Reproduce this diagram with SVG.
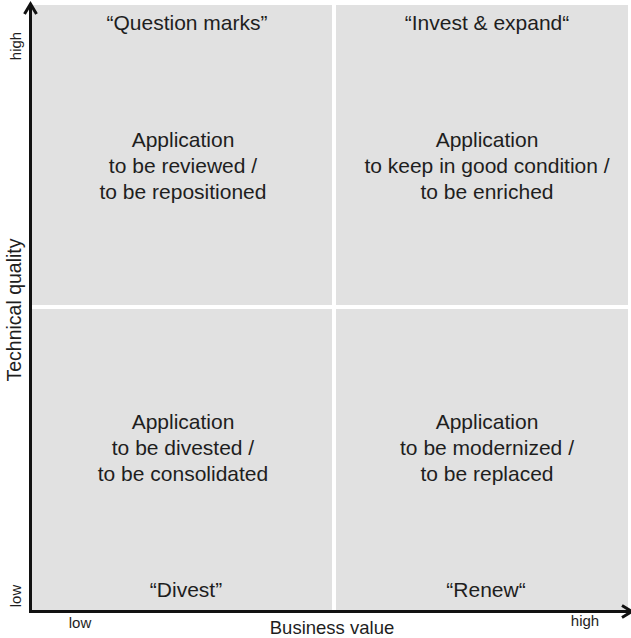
<svg xmlns="http://www.w3.org/2000/svg" width="631" height="638" viewBox="0 0 631 638">
<style>
.q{fill:#e1e1e1;}
.t{font-family:"Liberation Sans",Arial,sans-serif;font-size:21px;fill:#1e1e1e;text-anchor:middle;}
.ax{font-family:"Liberation Sans",Arial,sans-serif;fill:#1e1e1e;text-anchor:middle;}
.axis{stroke:#111;stroke-width:3;fill:none;}
</style>
<rect width="631" height="638" fill="#ffffff"/>
<g id="q-question-marks">
<rect class="q" x="32" y="5" width="300" height="300"/>
<text class="t" x="187" y="30">“Question marks”</text>
<text class="t" x="183" y="147">Application</text>
<text class="t" x="183" y="173">to be reviewed /</text>
<text class="t" x="183" y="199">to be repositioned</text>
</g>
<g id="q-invest-expand">
<rect class="q" x="336" y="5" width="292" height="300"/>
<text class="t" x="487" y="30">“Invest &amp; expand“</text>
<text class="t" x="487" y="147">Application</text>
<text class="t" x="487" y="173">to keep in good condition /</text>
<text class="t" x="487" y="199">to be enriched</text>
</g>
<g id="q-divest">
<rect class="q" x="32" y="309" width="300" height="301"/>
<text class="t" x="183" y="429">Application</text>
<text class="t" x="183" y="455">to be divested /</text>
<text class="t" x="183" y="481">to be consolidated</text>
<text class="t" x="186" y="597">“Divest”</text>
</g>
<g id="q-renew">
<rect class="q" x="336" y="309" width="292" height="301"/>
<text class="t" x="487" y="429">Application</text>
<text class="t" x="487" y="455">to be modernized /</text>
<text class="t" x="487" y="481">to be replaced</text>
<text class="t" x="486" y="597">“Renew“</text>
</g>
<g id="connectors">
<line class="axis" x1="30.5" y1="613" x2="30.5" y2="5"/>
<polyline class="axis" points="24.5,14 30.5,4 36.5,14"/>
<line class="axis" x1="29" y1="611.5" x2="631" y2="611.5"/>
<polyline class="axis" points="622,605.5 632,611.5 622,617.5"/>
</g>
<g id="axis-labels">
<text class="ax" x="332" y="634" font-size="18.5">Business value</text>
<text class="ax" x="80" y="628" font-size="15">low</text>
<text class="ax" x="585" y="626" font-size="15">high</text>
<text class="ax" font-size="19.5" transform="translate(20.5,310) rotate(-90)">Technical quality</text>
<text class="ax" font-size="15" transform="translate(20.5,46) rotate(-90)">high</text>
<text class="ax" font-size="15" transform="translate(20.5,596) rotate(-90)">low</text>
</g>
</svg>
